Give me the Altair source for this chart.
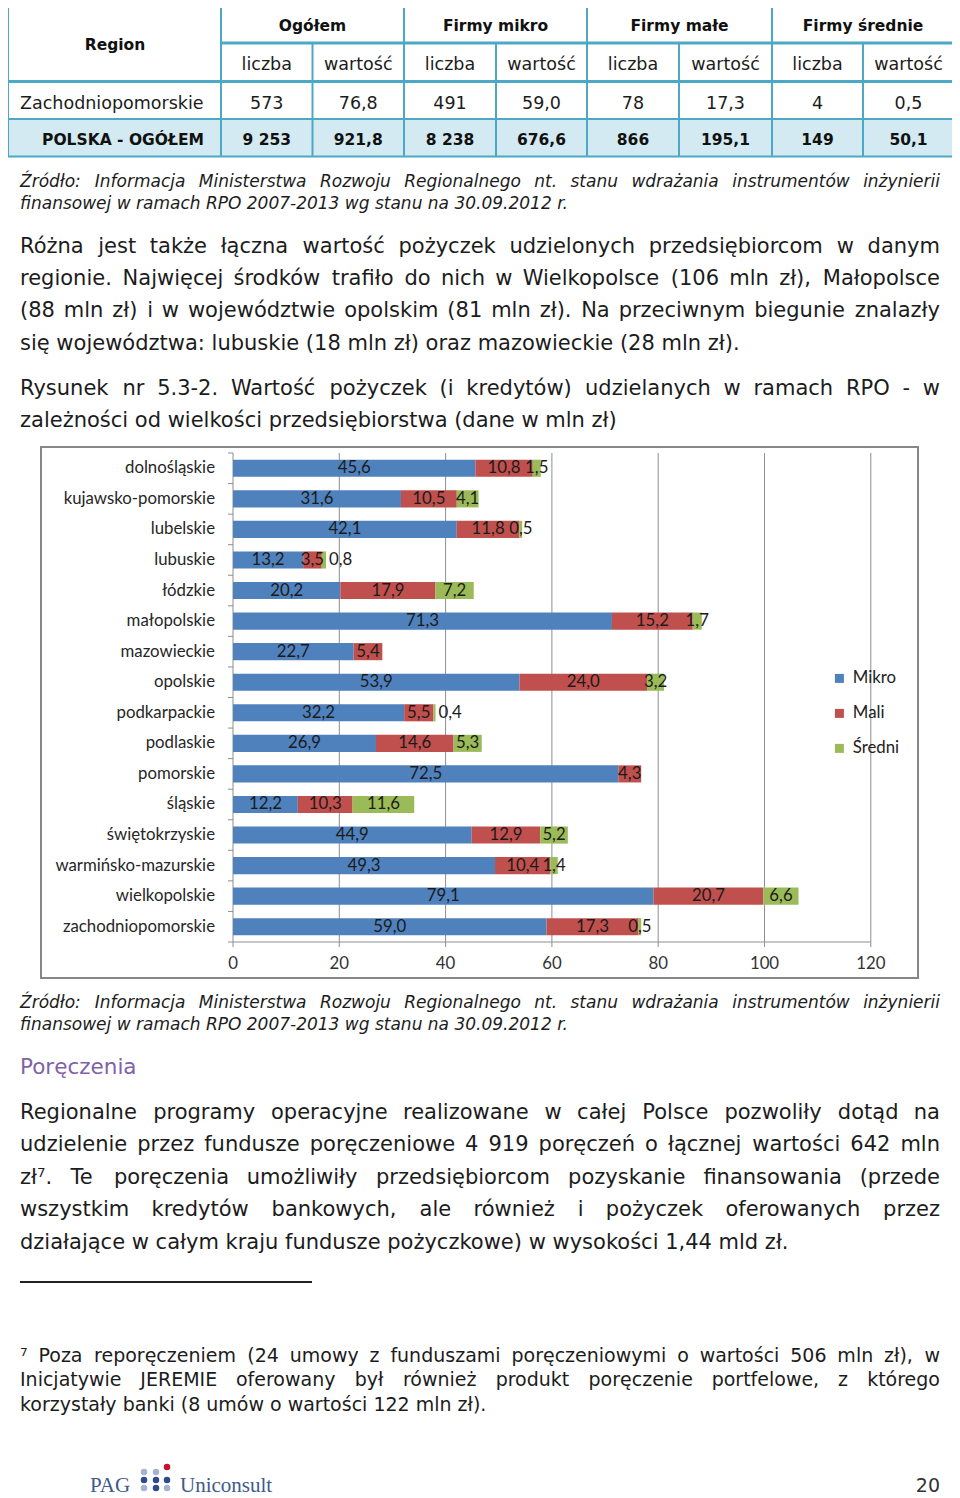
import altair as alt
import pandas as pd

# ---------------- data ----------------
regions = ["dolnośląskie", "kujawsko-pomorskie", "lubelskie", "lubuskie", "łódzkie",
           "małopolskie", "mazowieckie", "opolskie", "podkarpackie", "podlaskie",
           "pomorskie", "śląskie", "świętokrzyskie", "warmińsko-mazurskie",
           "wielkopolskie", "zachodniopomorskie"]
mikro = [45.6, 31.6, 42.1, 13.2, 20.2, 71.3, 22.7, 53.9, 32.2, 26.9, 72.5, 12.2, 44.9, 49.3, 79.1, 59.0]
mali = [10.8, 10.5, 11.8, 3.5, 17.9, 15.2, 5.4, 24.0, 5.5, 14.6, 4.3, 10.3, 12.9, 10.4, 20.7, 17.3]
sredni = [1.5, 4.1, 0.5, 0.8, 7.2, 1.7, None, 3.2, 0.4, 5.3, None, 11.6, 5.2, 1.4, 6.6, 0.5]
series = ["Mikro", "Mali", "Średni"]
series_colors = ["#4F81BD", "#C0504D", "#9BBB59"]
x_ticks = [0, 20, 40, 60, 80, 100, 120]

table_region_head = "Region"
table_groups = ["Ogółem", "Firmy mikro", "Firmy małe", "Firmy średnie"]
table_sub = ["liczba", "wartość"]
row_region = "Zachodniopomorskie"
row_values = ["573", "76,8", "491", "59,0", "78", "17,3", "4", "0,5"]
total_label = "POLSKA - OGÓŁEM"
total_values = ["9 253", "921,8", "8 238", "676,6", "866", "195,1", "149", "50,1"]

source_lines = ["Źródło: Informacja Ministerstwa Rozwoju Regionalnego nt. stanu wdrażania instrumentów inżynierii",
                "finansowej w ramach RPO 2007-2013 wg stanu na 30.09.2012 r."]
para1 = ["Różna jest także łączna wartość pożyczek udzielonych przedsiębiorcom w danym",
         "regionie. Najwięcej środków trafiło do nich w Wielkopolsce (106 mln zł), Małopolsce",
         "(88 mln zł) i w województwie opolskim (81 mln zł). Na przeciwnym biegunie znalazły",
         "się województwa: lubuskie (18 mln zł) oraz mazowieckie (28 mln zł)."]
caption = ["Rysunek nr 5.3-2. Wartość pożyczek (i kredytów) udzielanych w ramach RPO - w",
           "zależności od wielkości przedsiębiorstwa (dane w mln zł)"]
heading = "Poręczenia"
para2 = ["Regionalne programy operacyjne realizowane w całej Polsce pozwoliły dotąd na",
         "udzielenie przez fundusze poręczeniowe 4 919 poręczeń o łącznej wartości 642 mln",
         "zł⁷. Te poręczenia umożliwiły przedsiębiorcom pozyskanie finansowania (przede",
         "wszystkim kredytów bankowych, ale również i pożyczek oferowanych przez",
         "działające w całym kraju fundusze pożyczkowe) w wysokości 1,44 mld zł."]
footnote = ["⁷ Poza reporęczeniem (24 umowy z funduszami poręczeniowymi o wartości 506 mln zł), w",
            "Inicjatywie JEREMIE oferowany był również produkt poręczenie portfelowe, z którego",
            "korzystały banki (8 umów o wartości 122 mln zł)."]
footer_words = ["PAG", "Uniconsult"]
page_number = "20"

# ---------------- helpers ----------------
OFF = 8.0


def P(v):
    return v - OFF


CW = {' ': .318, '(': .39, ')': .39, ',': .318, '-': .361, '.': .318, ':': .337, '⁷': .401,
      'A': .684, 'B': .686, 'C': .698, 'D': .77, 'E': .632, 'F': .575, 'G': .775, 'H': .752,
      'I': .295, 'J': .295, 'K': .656, 'L': .557, 'M': .863, 'N': .748, 'O': .787, 'P': .603,
      'R': .695, 'S': .635, 'T': .611, 'U': .732, 'W': .989, 'Z': .685,
      'a': .613, 'b': .635, 'c': .55, 'd': .635, 'e': .615, 'f': .352, 'g': .635, 'h': .634,
      'i': .278, 'j': .278, 'k': .579, 'l': .278, 'm': .974, 'n': .634, 'o': .612, 'p': .635,
      'r': .411, 's': .521, 't': .392, 'u': .634, 'v': .592, 'w': .818, 'y': .592, 'z': .525,
      'ł': .32, 'Ł': .56}
ACC = {'ą': 'a', 'ę': 'e', 'ó': 'o', 'ś': 's', 'ć': 'c', 'ń': 'n', 'ż': 'z', 'ź': 'z',
       'Ź': 'Z', 'Ó': 'O', 'Ś': 'S', 'Ż': 'Z'}


def tw(s):
    t = 0.0
    for ch in s:
        c = ACC.get(ch, ch)
        if c in CW:
            t += CW[c]
        elif c.isdigit():
            t += 0.636
        else:
            t += 0.6
    return t


def justify(lines, size, x0=20.0, x1=940.0):
    left, right = [], []
    for text, yb, just in lines:
        if not just:
            left.append({"tx": text, "px": P(x0), "py": P(yb)})
            continue
        words = text.split(" ")
        widths = [tw(w) * size for w in words]
        gap = (x1 - x0 - sum(widths)) / (len(words) - 1)
        gap = max(gap, 0.2 * size)
        x = x0
        for i, (w, wd) in enumerate(zip(words, widths)):
            if i == len(words) - 1:
                right.append({"tx": w, "px": P(x1), "py": P(yb)})
            else:
                left.append({"tx": w, "px": P(x), "py": P(yb)})
            x += wd + gap
    return left, right


def tlayer(rows, size, align="left", color="#1c1c1c", font="DejaVu Sans", style="normal",
           weight="normal", baseline="alphabetic"):
    df = pd.DataFrame(rows)
    return alt.Chart(df).mark_text(align=align, baseline=baseline, font=font, fontSize=size,
                                   fontStyle=style, fontWeight=weight, color=color).encode(
        x=alt.X("px:Q", scale=None, axis=None),
        y=alt.Y("py:Q", scale=None, axis=None),
        text=alt.Text("tx:N"))


def hrules(rows, color, width):
    df = pd.DataFrame(rows, columns=["a", "b", "c"])
    return alt.Chart(df).mark_rule(color=color, strokeWidth=width).encode(
        x=alt.X("a:Q", scale=None, axis=None), x2="b:Q",
        y=alt.Y("c:Q", scale=None, axis=None))


def vrules(rows, color, width):
    df = pd.DataFrame(rows, columns=["a", "b", "c"])
    return alt.Chart(df).mark_rule(color=color, strokeWidth=width).encode(
        x=alt.X("a:Q", scale=None, axis=None),
        y=alt.Y("b:Q", scale=None, axis=None), y2="c:Q")


def rect(x0, x1, y0, y1, **kw):
    df = pd.DataFrame({"a": [P(x0)], "b": [P(x1)], "c": [P(y0)], "d": [P(y1)]})
    return alt.Chart(df).mark_rect(**kw).encode(
        x=alt.X("a:Q", scale=None, axis=None), x2="b:Q",
        y=alt.Y("c:Q", scale=None, axis=None), y2="d:Q")


# ---------------- table ----------------
TEAL = "#4BA9C6"
col_b = [221, 312.5, 404, 496, 587, 679, 772, 863, 954]
sub_c = [(col_b[i] + col_b[i + 1]) / 2 for i in range(8)]
grp_c = [(col_b[2 * i] + col_b[2 * i + 2]) / 2 for i in range(4)]

table_fill = rect(8, 954, 119, 157, fill="#D4EAF2")
t_thin_h = hrules([(P(8), P(954), P(5)), (P(8), P(954), P(119)), (P(8), P(954), P(156.5))], TEAL, 2)
t_thick_h = hrules([(P(221), P(954), P(43)), (P(8), P(954), P(81.5))], TEAL, 3)
t_v = vrules([(P(x), P(5), P(157)) for x in [8, 221, 404, 587, 772, 954]] +
             [(P(x), P(43), P(157)) for x in [312.5, 496, 679, 863]], TEAL, 2)

bold_rows = [{"tx": table_region_head, "px": P(115), "py": P(50)}]
bold_rows += [{"tx": g, "px": P(c), "py": P(30.5)} for g, c in zip(table_groups, grp_c)]
bold_rows += [{"tx": total_label, "px": P(123), "py": P(145)}]
bold_rows += [{"tx": v, "px": P(c), "py": P(145)} for v, c in zip(total_values, sub_c)]
reg_rows = [{"tx": table_sub[i % 2], "px": P(c), "py": P(70)} for i, c in enumerate(sub_c)]
reg_rows += [{"tx": v, "px": P(c), "py": P(108.5)} for v, c in zip(row_values, sub_c)]

t_bold = tlayer(bold_rows, 15.5, align="center", weight="bold", color="#111111")
t_reg = tlayer(reg_rows, 17.5, align="center", color="#1c1c1c")
t_reg_left = tlayer([{"tx": row_region, "px": P(20), "py": P(108.5)}], 17.5, color="#1c1c1c")

# ---------------- page text ----------------
src1_l, src1_r = justify([(source_lines[0], 187, True), (source_lines[1], 209, False)], 17)
src2_l, src2_r = justify([(source_lines[0], 1008, True), (source_lines[1], 1030, False)], 17)
body_lines = [(para1[0], 253, True), (para1[1], 285, True), (para1[2], 317, True), (para1[3], 350, False),
              (caption[0], 395, True), (caption[1], 427, False),
              (para2[0], 1119, True), (para2[1], 1151, True), (para2[2], 1184, True),
              (para2[3], 1216, True), (para2[4], 1249, False)]
body_l, body_r = justify(body_lines, 21)
foot_l, foot_r = justify([(footnote[0], 1362, True), (footnote[1], 1386, True), (footnote[2], 1411, False)], 19)

text_layers = [
    tlayer(src1_l + src2_l, 17, style="italic"),
    tlayer(src1_r + src2_r, 17, align="right", style="italic"),
    tlayer(body_l, 21),
    tlayer(body_r, 21, align="right"),
    tlayer(foot_l, 19),
    tlayer(foot_r, 19, align="right"),
    tlayer([{"tx": heading, "px": P(20), "py": P(1074)}], 21.5, color="#7F62A8"),
    tlayer([{"tx": footer_words[0], "px": P(90), "py": P(1492)},
            {"tx": footer_words[1], "px": P(180), "py": P(1492)}], 21,
           font="Liberation Serif", color="#405A8C"),
    tlayer([{"tx": page_number, "px": P(940), "py": P(1492)}], 19, align="right", color="#333333"),
]

sep = hrules([(P(20), P(312), P(1282))], "#222222", 2)


def dots(pts, color):
    df = pd.DataFrame([{"a": P(x), "b": P(y)} for x, y in pts])
    return alt.Chart(df).mark_circle(size=42, color=color, opacity=1).encode(
        x=alt.X("a:Q", scale=None, axis=None), y=alt.Y("b:Q", scale=None, axis=None))


logo = [dots([(144, 1472), (156, 1472), (144, 1488), (167, 1488)], "#A3B3D0"),
        dots([(144, 1480), (156, 1480), (167, 1480), (156, 1488)], "#2D4B8C"),
        dots([(167, 1467)], "#C8102E")]

# ---------------- bar chart ----------------
PLOT_L, PLOT_R, PLOT_T, PLOT_B = 233.0, 870.8, 453.0, 942.0
PX_PER_UNIT = (PLOT_R - PLOT_L) / 120.0
LBL_SIZE = 16.8


def lbl_w(s):
    return sum(0.25 if c == "," else 0.58 for c in s) * LBL_SIZE


rows = []
for i, r in enumerate(regions):
    start = 0.0
    prev = None
    for s, vals in zip(series, [mikro, mali, sredni]):
        v = vals[i]
        if v is None:
            continue
        lab = f"{v:.1f}".replace(".", ",")
        mid = start + v / 2
        outside = False
        if prev is not None:
            dist = (mid - prev[0]) * PX_PER_UNIT
            if dist < (prev[1] + lbl_w(lab)) / 2 + 2:
                outside = True
        rows.append({"region": r, "series": s, "x0": start, "x1": start + v,
                     "mid": mid, "label": lab, "outside": outside})
        prev = (mid, lbl_w(lab))
        start += v
bars_df = pd.DataFrame(rows)

XS = alt.Scale(domain=[0, 120], range=[P(PLOT_L), P(PLOT_R)], nice=False, zero=False)
YS = alt.Scale(type="band", domain=regions, range=[P(PLOT_T), P(PLOT_B)], paddingInner=0.44, paddingOuter=0.22)
GRID = "#8E8E8E"

chart_border = rect(41, 918, 447, 978, fill="#ffffff", stroke="#878787", strokeWidth=2)

tick_df = pd.DataFrame({"t": x_ticks})
grid = alt.Chart(tick_df[tick_df.t > 0]).mark_rule(color=GRID, strokeWidth=1).encode(
    x=alt.X("t:Q", scale=XS, axis=None), y=alt.value(P(PLOT_T)), y2=alt.value(P(PLOT_B)))
axis_df = pd.DataFrame({"a": [0], "b": [120]})
xaxis = alt.Chart(axis_df).mark_rule(color=GRID, strokeWidth=1).encode(
    x=alt.X("a:Q", scale=XS, axis=None), x2="b:Q", y=alt.value(P(PLOT_B)))
yaxis = alt.Chart(axis_df).mark_rule(color=GRID, strokeWidth=1).encode(
    x=alt.X("a:Q", scale=XS, axis=None), y=alt.value(P(PLOT_T)), y2=alt.value(P(PLOT_B)))
xticks = alt.Chart(tick_df).mark_rule(color=GRID, strokeWidth=1).encode(
    x=alt.X("t:Q", scale=XS, axis=None), y=alt.value(P(PLOT_B)), y2=alt.value(P(PLOT_B + 5)))
xlabels = alt.Chart(tick_df).mark_text(font="Lato", fontSize=LBL_SIZE, color="#333333", baseline="middle").encode(
    x=alt.X("t:Q", scale=XS, axis=None), y=alt.value(P(964)), text=alt.Text("t:Q", format="d"))

bars = alt.Chart(bars_df).mark_bar(strokeWidth=0).encode(
    x=alt.X("x0:Q", scale=XS, axis=None), x2="x1:Q",
    y=alt.Y("region:N", scale=YS, axis=None),
    color=alt.Color("series:N", scale=alt.Scale(domain=series, range=series_colors),
                    legend=alt.Legend(title=None, orient="none", legendX=P(831), legendY=P(670),
                                      symbolType="square", symbolSize=81, symbolStrokeWidth=0,
                                      labelFont="Lato", labelFontSize=LBL_SIZE, labelColor="#222222",
                                      rowPadding=17, labelOffset=5, padding=0)))
labels_in = alt.Chart(bars_df[~bars_df.outside]).mark_text(
    font="Lato", fontSize=LBL_SIZE, color="#1b1b1b", baseline="middle", align="center").encode(
    x=alt.X("mid:Q", scale=XS, axis=None), y=alt.Y("region:N", scale=YS, axis=None),
    text="label:N")
labels_out = alt.Chart(bars_df[bars_df.outside]).mark_text(
    font="Lato", fontSize=LBL_SIZE, color="#1b1b1b", baseline="middle", align="left", dx=3).encode(
    x=alt.X("x1:Q", scale=XS, axis=None), y=alt.Y("region:N", scale=YS, axis=None),
    text="label:N")
reg_df = pd.DataFrame({"region": regions})
reg_labels = alt.Chart(reg_df).mark_text(font="Lato", fontSize=LBL_SIZE, color="#262626",
                                         align="right", baseline="middle").encode(
    x=alt.value(P(215)), y=alt.Y("region:N", scale=YS, axis=None), text="region:N")

step = (PLOT_B - PLOT_T) / len(regions)
ytick_rows = [(P(PLOT_L - 5), P(PLOT_L), P(PLOT_T + k * step)) for k in range(len(regions) + 1)]
yticks = hrules(ytick_rows, GRID, 1)

bar_part = alt.layer(grid, xaxis, yaxis, xticks, xlabels, bars, labels_in, labels_out, reg_labels)
back = alt.layer(table_fill, chart_border)
front = alt.layer(t_thin_h, t_thick_h, t_v, t_bold, t_reg, t_reg_left, yticks, sep,
                  *text_layers, *logo)

chart = alt.layer(back, bar_part, front).resolve_scale(
    x="independent", y="independent"
).properties(
    width=944, height=1490, autosize=alt.AutoSizeParams(type="none"), padding=0,
    background="white"
).configure_view(stroke=None)

chart.save("out.html", embed_options={"renderer": "svg", "actions": False})
